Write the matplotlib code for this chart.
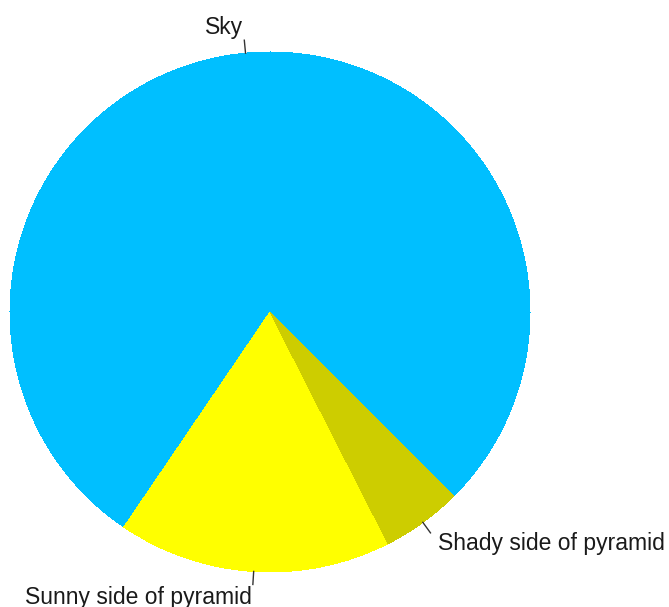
import numpy as np
import matplotlib.pyplot as plt

# slice shares (percent) and names, as in the classic pyramid pie
labels = ["Sky", "Sunny side of pyramid", "Shady side of pyramid"]
shares = [78, 17, 5]
colors = ["#00BFFF", "#FFFF00", "#CDCD00"]

W, H = 669, 607
fig = plt.figure(figsize=(W / 100, H / 100), dpi=100)
ax = fig.add_axes([0, 0, 1, 1])

cx, cy, r = 270, H - 312, 260

wedges, _ = ax.pie(shares, colors=colors, startangle=315, counterclock=True,
                   radius=r, center=(cx, cy), frame=True,
                   wedgeprops=dict(linewidth=0, antialiased=False))
ax.set_xlim(0, W)
ax.set_ylim(0, H)
ax.set_aspect("equal")
ax.axis("off")

# R style labels: tick from 1.0r to 1.05r, text at 1.1r
for w, lab in zip(wedges, labels):
    mid = np.deg2rad((w.theta1 + w.theta2) / 2)
    ux, uy = np.cos(mid), np.sin(mid)
    ax.plot([cx + r * ux, cx + 1.05 * r * ux], [cy + r * uy, cy + 1.05 * r * uy],
            color="#333333", lw=1)
    ax.text(cx + 1.1 * r * ux, cy + 1.1 * r * uy, lab,
            ha="left" if ux > 0 else "right", va="center",
            fontsize=16.5, family="Liberation Sans", color="#1a1a1a")

fig.savefig("out.png", dpi=100)
